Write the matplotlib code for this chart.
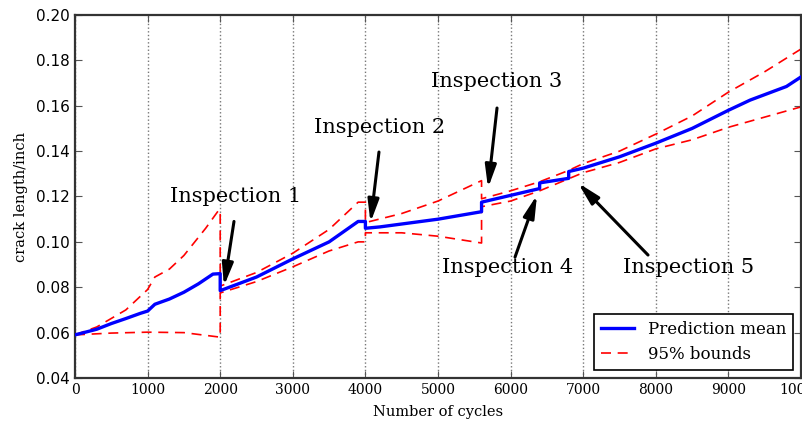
import matplotlib
matplotlib.use('Agg')
import matplotlib.pyplot as plt

# prediction mean (duplicated cycles where inspections cause jumps)
mean_cycles = [0, 300, 500, 700, 900, 1000, 1100, 1300, 1500, 1700, 1900, 2000, 2000,
               2500, 3000, 3500, 3900, 4000, 4000, 4200, 5000, 5600, 5600, 6000, 6400, 6400,
               6800, 6800, 7000, 7500, 8000, 8500, 9000, 9300, 9800, 10000]
mean_vals = [0.0590, 0.0615, 0.0640, 0.0662, 0.0685, 0.0695, 0.0725, 0.0748, 0.0778, 0.0815,
             0.0858, 0.0860, 0.0785, 0.0845, 0.0925, 0.1000, 0.1090, 0.1090, 0.1060, 0.1066,
             0.1100, 0.1133, 0.1175, 0.1205, 0.1235, 0.1260, 0.1280, 0.1310, 0.1325, 0.1375,
             0.1435, 0.1500, 0.1580, 0.1625, 0.1685, 0.1727]

# 95% bounds
upper_cycles = [0, 300, 700, 1000, 1100, 1300, 1500, 1800, 1980, 2000, 2000, 2500, 3000,
                3500, 3900, 4000, 4000, 4500, 5000, 5600, 5600, 6000, 6400, 6800, 7000,
                7500, 8000, 8500, 9000, 9500, 10000]
upper_vals = [0.0590, 0.0625, 0.0700, 0.0790, 0.0845, 0.0880, 0.0940, 0.1060, 0.1140, 0.1140,
              0.0805, 0.0865, 0.0950, 0.1055, 0.1175, 0.1175, 0.1085, 0.1125, 0.1180, 0.1270,
              0.1190, 0.1225, 0.1265, 0.1315, 0.1345, 0.1400, 0.1475, 0.1555, 0.1660, 0.1750,
              0.1850]

lower_cycles = [0, 500, 1000, 1500, 1800, 2000, 2000, 2500, 3000, 3500, 3900, 4000, 4000,
                4500, 5000, 5600, 5600, 6000, 6400, 7000, 7500, 8000, 8500, 9000, 9500, 10000]
lower_vals = [0.0590, 0.0598, 0.0602, 0.0600, 0.0588, 0.0580, 0.0775, 0.0825, 0.0890, 0.0960,
              0.1000, 0.1000, 0.1040, 0.1040, 0.1025, 0.0995, 0.1155, 0.1180, 0.1225, 0.1305,
              0.1350, 0.1410, 0.1450, 0.1505, 0.1550, 0.1595]

# annotation text position, arrow tail, arrow tip
inspections = ['Inspection 1', 'Inspection 2', 'Inspection 3', 'Inspection 4', 'Inspection 5']
text_pos = [(2218, 0.1202), (4201, 0.1502), (5813, 0.1709), (5964, 0.0885), (8457, 0.0885)]
arrow_tail = [(2190, 0.1090), (4187, 0.1396), (5813, 0.1590), (6061, 0.0933), (7893, 0.0942)]
arrow_tip = [(2052, 0.0805), (4070, 0.1085), (5689, 0.1237), (6364, 0.1207), (6928, 0.1260)]

fig = plt.figure(figsize=(8.02, 4.23), dpi=100)
ax = fig.add_axes([75/802, 45/423, 726/802, 363/423])

ax.plot(mean_cycles, mean_vals, color='blue', linewidth=2.4, label='Prediction mean', zorder=3)
ax.plot(upper_cycles, upper_vals, color='red', linestyle='--', linewidth=1.2,
        dashes=(6, 4), label='95% bounds', zorder=2)
ax.plot(lower_cycles, lower_vals, color='red', linestyle='--', linewidth=1.2,
        dashes=(6, 4), zorder=2)

for name, tp, tail, tip in zip(inspections, text_pos, arrow_tail, arrow_tip):
    ax.text(tp[0], tp[1], name, ha='center', va='center', family='DejaVu Serif', fontsize=15)
    ax.annotate('', xy=tip, xytext=tail,
                arrowprops=dict(arrowstyle='-|>,head_length=0.9,head_width=0.22',
                                color='black', lw=2.2, mutation_scale=15,
                                shrinkA=0, shrinkB=0))

ax.set_xlim(0, 10000)
ax.set_ylim(0.04, 0.20)
ax.set_xticks(range(0, 10001, 1000))
ax.set_yticks([0.04, 0.06, 0.08, 0.10, 0.12, 0.14, 0.16, 0.18, 0.20])
ax.set_yticklabels(['0.04', '0.06', '0.08', '0.10', '0.12', '0.14', '0.16', '0.18', '0.20'],
                   family='DejaVu Sans', fontsize=11)
for lbl in ax.get_xticklabels():
    lbl.set_family('DejaVu Serif')
    lbl.set_fontsize(10)
ax.tick_params(direction='in', top=True, right=True, length=5, color='#555555')
ax.xaxis.grid(True, linestyle=':', color='#777777', linewidth=1)
for sp in ax.spines.values():
    sp.set_linewidth(1.6)
    sp.set_color('#333333')

ax.set_xlabel('Number of cycles', family='DejaVu Serif', fontsize=10.5, labelpad=6)
ax.set_ylabel('crack length/inch', family='DejaVu Serif', fontsize=10.5, labelpad=6)

leg = ax.legend(loc='lower right', prop={'family': 'DejaVu Serif', 'size': 12},
                fancybox=False, edgecolor='black', framealpha=1, borderaxespad=0.5)
leg.get_frame().set_linewidth(1.2)

fig.savefig('out.png', dpi=100)
